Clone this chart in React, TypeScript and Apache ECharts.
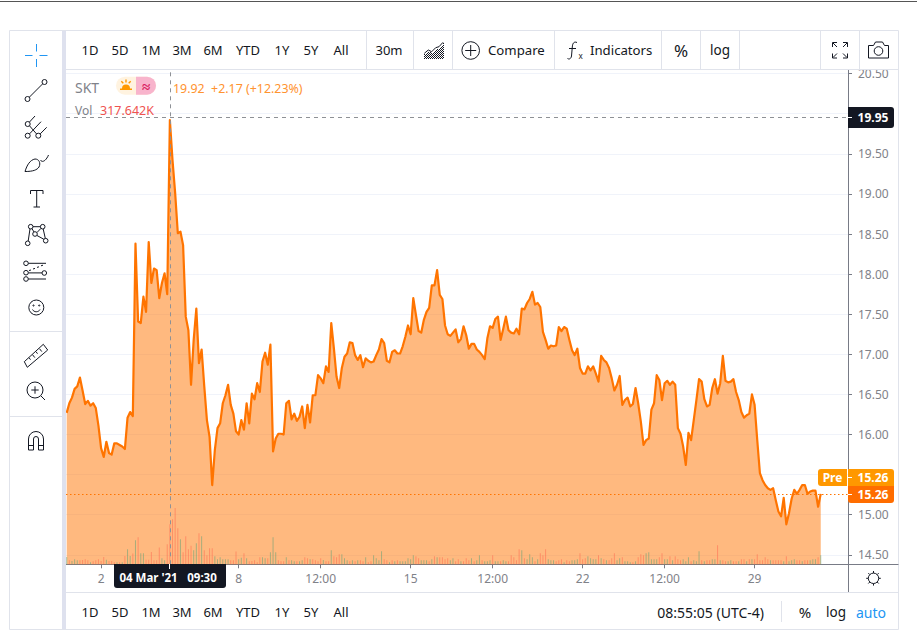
import React, { useEffect, useRef } from "react";
import * as echarts from "echarts";

// 30-minute bars, 13 per session, from 1 March 2021
const prices = [
  16.27,16.39,16.46,16.57,16.60,16.71,16.55,16.38,16.42,16.36,
  16.39,16.33,16.11,15.83,15.72,15.91,15.77,15.75,15.89,15.89,
  15.87,15.85,15.82,16.21,16.28,16.23,18.38,17.41,17.39,17.72,
  17.53,18.40,17.89,18.07,18.05,17.70,17.89,18.01,17.75,19.92,
  19.42,19.01,18.51,18.53,18.36,17.47,17.30,16.62,17.18,17.57,
  16.89,17.06,16.60,16.18,15.97,15.37,15.81,16.08,16.14,16.39,
  16.49,16.62,16.37,16.26,16.04,16.00,16.18,16.06,16.39,16.14,
  16.51,16.44,16.64,16.53,16.91,17.02,16.87,17.12,15.79,15.95,
  16.01,16.01,16.00,16.39,16.42,16.19,16.26,16.17,16.22,16.35,
  16.08,16.37,16.15,16.49,16.49,16.74,16.70,16.64,16.85,16.78,
  17.39,17.07,16.72,16.58,16.83,16.97,17.01,17.15,17.14,16.99,
  16.93,16.99,16.84,16.95,16.92,16.90,16.91,16.99,17.06,17.19,
  17.14,16.92,16.90,17.03,17.05,17.01,17.01,17.10,17.22,17.36,
  17.25,17.70,17.49,17.29,17.27,17.43,17.53,17.58,17.86,17.86,
  18.05,17.74,17.69,17.36,17.25,17.23,17.27,17.31,17.15,17.19,
  17.35,17.24,17.07,17.13,17.13,17.06,17.03,16.99,16.94,17.20,
  17.35,17.33,17.44,17.47,17.18,17.32,17.47,17.30,17.27,17.26,
  17.32,17.25,17.57,17.56,17.64,17.69,17.78,17.62,17.64,17.59,
  17.28,17.18,17.07,17.11,17.10,17.11,17.34,17.29,17.34,17.32,
  17.18,17.05,16.99,17.07,16.83,16.76,16.76,16.85,16.80,16.85,
  16.76,16.66,16.98,16.93,16.90,16.83,16.70,16.55,16.62,16.73,
  16.37,16.43,16.46,16.35,16.38,16.58,16.39,16.16,15.87,15.93,
  15.95,16.31,16.39,16.74,16.68,16.43,16.64,16.67,16.62,16.66,
  16.62,16.08,16.01,15.85,15.62,16.02,15.93,16.18,16.43,16.69,
  16.66,16.44,16.35,16.37,16.58,16.69,16.51,16.64,16.98,16.67,
  16.65,16.66,16.69,16.53,16.43,16.28,16.21,16.24,16.26,16.50,
  16.37,15.93,15.52,15.43,15.37,15.33,15.31,15.33,15.18,15.04,
  14.98,15.21,14.88,15.02,15.20,15.31,15.26,15.31,15.37,15.37,
  15.26,15.29,15.30,15.30,15.10,15.26,
];

// volume in thousands of shares
const volumes = [
  58,32,27,40,32,32,34,40,32,16,
  24,32,40,27,58,37,27,27,16,16,
  16,16,66,119,66,85,191,215,87,87,
  37,37,98,32,32,133,48,32,159,318,
  358,448,286,199,95,223,119,148,111,167,
  246,223,111,72,127,127,64,40,56,40,
  40,40,32,32,101,40,53,87,48,24,
  27,32,16,56,56,48,48,95,215,95,
  32,24,24,56,32,32,24,24,24,32,
  56,48,40,40,32,24,48,34,24,24,
  111,64,56,80,80,48,32,24,32,24,
  32,32,24,56,16,24,72,48,32,103,
  40,32,16,32,24,32,24,24,24,48,
  40,72,64,48,32,32,32,24,40,64,
  56,56,56,40,48,32,48,24,40,
  24,24,48,32,48,24,32,72,32,24,
  24,32,72,24,24,24,32,24,24,72,
  56,32,119,111,48,40,80,56,24,40,
  87,72,119,40,32,32,24,32,40,16,
  32,24,32,32,40,87,40,48,64,48,
  40,40,72,48,40,32,32,48,87,32,
  48,56,24,24,16,16,24,56,80,72,
  87,95,40,40,40,56,87,40,40,64,
  32,64,40,32,40,24,56,24,32,24,
  103,32,24,32,32,40,40,151,32,32,
  24,24,32,24,24,24,40,40,24,40,
  40,40,80,32,32,56,40,32,32,32,
  32,32,24,64,24,32,40,32,32,24,
  32,32,32,40,40,56,72,
];

const volumeUp = [
  1,0,1,1,1,0,0,0,0,1,
  0,0,0,0,0,1,0,0,0,1,
  0,1,0,1,1,0,1,0,1,1,
  0,0,0,0,0,0,1,1,0,0,
  0,0,0,1,0,0,0,0,1,1,
  0,1,0,0,0,0,1,1,1,1,
  1,1,0,0,0,1,1,0,1,0,
  0,0,0,0,1,1,0,1,1,1,
  0,0,0,1,0,1,1,0,1,1,
  0,0,1,0,0,0,0,1,0,0,
  1,0,0,0,1,1,1,0,1,0,
  1,0,0,1,0,0,1,1,1,1,
  0,0,1,0,1,0,1,1,1,1,
  1,1,0,0,1,1,1,0,1,0,
  1,0,0,0,0,1,1,0,0,
  1,0,0,0,1,0,1,1,0,1,
  1,1,0,1,1,0,1,1,0,0,
  0,0,0,1,0,1,1,1,0,1,
  0,0,0,1,1,1,0,0,0,1,
  0,0,1,1,1,0,0,0,1,1,
  1,1,0,1,0,1,0,0,0,1,
  1,0,1,1,1,0,1,0,0,0,
  1,1,1,1,1,0,0,1,1,0,
  1,0,0,0,1,1,1,0,1,1,
  1,0,1,0,0,1,1,0,1,0,
  0,1,1,0,0,1,0,0,1,0,
  1,0,0,0,0,0,0,1,0,0,
  0,0,1,0,1,1,1,0,0,1,
  0,0,1,1,1,0,1,
];

const xTickIndex = [13, 65, 96, 130, 161, 195, 226, 260];
const xTickLabels = ["2", "8", "12:00", "15", "12:00", "22", "12:00", "29"];
const yTicks = [14.5,15,15.5,16,16.5,17,17.5,18,18.5,19,19.5,20,20.5];
// 15.50 and 20.00 sit behind the price flags in the reference
const yTickLabels = [14.5,15,16,16.5,17,17.5,18,18.5,19,19.5,20.5];
const rangeButtons = ["1D","5D","1M","3M","6M","YTD","1Y","5Y","All"];
const rangeButtonX = [90,120,151,182,213,248,282,311,341];

const crossIndex = 39;
const crossPrice = 19.95;
const lastPrice = 15.26;

const FONT = '"Noto Sans"';
const INK = "#131722";
const RULE = "#E0E3EB";
const AXIS = "#787B86";
const GREY = "#7F8289";

const circ = (cx: number, cy: number, r: number) =>
  `M${cx - r} ${cy}a${r} ${r} 0 1 0 ${2 * r} 0a${r} ${r} 0 1 0 ${-2 * r} 0Z`;

function mountainDots() {
  const ridge: number[][] = [[424,53],[428,50],[432,52],[436,48],[439,47],[443,42]];
  let d = "";
  for (let x = 424; x <= 443; x++) {
    let top = 58;
    for (let k = 0; k < ridge.length - 1; k++) {
      const [a, b] = ridge[k];
      const [c, e] = ridge[k + 1];
      if (x >= a && x <= c) top = b + ((e - b) * (x - a)) / (c - a);
    }
    for (let y = Math.ceil(top) + 1; y < 59; y++) {
      if ((x + y) % 2 === 0) d += `M${x} ${y}h1v1h-1Z`;
    }
  }
  return d;
}

const icons: Record<string, string> = {
  icCross: "M25 55.5H32.5M39.5 55.5H47.5M36.5 44V51.5M36.5 59V67",
  icTrend: circ(27.5, 99, 2.5) + circ(44.5, 82, 2.5) + "M29.5 97L42.5 84",
  icFib: circ(27.7, 124, 2.5) + circ(27.7, 135.7, 2.5) + circ(38.3, 135.7, 2.5) +
    "M29.5 122L35 116M29.5 133.9L41 121.7M40.2 133.9L46.7 127.3M29.5 125.8L36.5 133.9",
  icBrush: "M25 171.5C27 165 30 160 35 159C39 159 41 163 39 167C37 170 33 171.5 25 171.5ZM40.5 160C42 163 46 161 48.5 155",
  icText: "M30.5 194V190.5H43V194M36.7 190.5V207M33.5 207H40",
  icNodes: circ(30.7, 226.7, 2.3) + circ(42.7, 226.7, 2.3) + circ(35, 234, 2.3) + circ(27.7, 243.3, 2.3) + circ(45.7, 240.7, 2.3) +
    "M32 228.7L34 232M41 228.3L37 232.5M37 235.5L43.9 239.3M30 228.8L28.2 241M43.2 229L45.3 238.4M33 226.7H40.4",
  icLines: circ(26, 263.3, 2.3) + circ(26, 272.7, 2.3) + circ(44.3, 273, 2.3) + circ(26, 279, 2.3) +
    "M28.3 263.3H46M28.3 272.9H42M28.3 279H46M29 270.5L31 270M33 269L35 268.4M37 267.4L39 266.8M41 265.8L43 265.2",
  icSmile: circ(36.3, 307.5, 7.5) + circ(33.5, 305.5, 0.6) + circ(39.2, 305.5, 0.6) + "M32.5 309.5C34 312.5 38.5 312.5 40 309.5",
  icRuler: "M24.3 361.7L27.3 367.3L47.7 350L43.3 344.3ZM29 357.7L30.5 359.7M32.5 354.7L34.8 357.6M36 351.7L37.5 353.7M39.5 348.7L41.8 351.6",
  icZoom: circ(35, 390, 8) + "M41 396L45 400M35 386.3V393.7M31.3 390H38.7",
  icMagnet: "M28.5 450V439A7.5 7.5 0 0 1 43.5 439V450H38.5V439A2.5 2.5 0 0 0 33.5 439V450ZM28.5 445.5H33.5M38.5 445.5H43.5",
  icRidge: "M424.3 53.3L428.3 50L431.7 51.7L435.7 47.7L439 46.7L443 42.3",
  icCompare: circ(470.7, 50.5, 8.8) + "M470.7 45V56M465.2 50.5H476.2",
  icFx: "M577 42.5C573.5 41 572.5 44 572.3 47L571.5 56C571 59 569 59.5 567.5 58.5M569 48.5H576",
  icFull: "M832.5 47V42.5H837M833 43L837 47M847.5 47V42.5H843M847 43L843 47M832.5 53.5V58H837M833 57.5L837 53.5M847.5 53.5V58H843M847 57.5L843 53.5",
  icCamera: "M868.5 45.5H873.5L875.5 42H882.5L884.5 45.5H888.5V58H868.5Z" + circ(878.5, 51, 4.3),
  icGear: circ(873.5, 578.3, 5.2) + "M873.5 571V573M873.5 583.6V585.6M866.2 578.3H868.2M878.8 578.3H880.8M868.3 573.1L869.8 574.6M877.2 582L878.7 583.5M868.3 583.5L869.8 582M877.2 574.6L878.7 573.1",
};
const filled: Record<string, string> = {
  icStipple: mountainDots(),
  icSun: "M122 88.5A4 4 0 0 1 130 88.5ZM120 88.5H132V90H120ZM125.3 79.5H126.7V82.5H125.3ZM120.8 81.8L121.8 80.8L123.8 82.8L122.8 83.8ZM131.2 81.8L130.2 80.8L128.2 82.8L129.2 83.8Z",
};
[...Object.entries(icons), ...Object.entries(filled)].forEach(([name, d]) => {
  echarts.graphic.registerShape(name, echarts.graphic.extendPath(d, {}) as any);
});

function buildGraphic() {
  const Z = 100;
  const txt = (text: string, x: number, y: number, o: any = {}) => ({
    type: "text", x, y, z: o.z ?? Z + 2,
    style: {
      text, fill: o.fill ?? INK, align: o.align ?? "center", verticalAlign: "middle",
      font: `${o.weight ?? "normal"} ${o.size ?? 13}px ${FONT}`,
    },
  });
  const rect = (x: number, y: number, w: number, h: number, fill: string, o: any = {}) => ({
    type: "rect", z: o.z ?? Z, shape: { x, y, width: w, height: h, r: o.r ?? 0 }, style: { fill },
  });
  const vline = (x: number, y1: number, y2: number, c = RULE) => ({
    type: "line", z: Z + 1, shape: { x1: x, y1, x2: x, y2 }, style: { stroke: c, lineWidth: 1 },
  });
  const hline = (y: number, x1: number, x2: number, c = RULE) => ({
    type: "line", z: Z + 1, shape: { x1, y1: y, x2, y2: y }, style: { stroke: c, lineWidth: 1 },
  });

  const els: any[] = [
    // page rule and panel frame
    rect(0, 1, 917, 1, "#555555"),
    rect(9.5, 30.5, 889, 39, "#FFFFFF"),
    rect(10, 70, 52, 559, "#FFFFFF"),
    rect(62, 31, 4, 598, "#DEE1EE"),
    vline(9.5, 30.5, 629.5), vline(898.5, 30.5, 629.5),
    hline(30.5, 9.5, 898.5), hline(629.5, 9.5, 898.5),
    hline(69.5, 66, 898.5),
    hline(592.5, 66, 898.5),
    hline(564.5, 848, 898.5, AXIS),
    vline(848.5, 564, 592, AXIS),
    hline(331.5, 10, 62), hline(416.5, 10, 62),
    ...[366.5, 413.5, 452.5, 554.5, 661.5, 700.5, 739.5, 820.5, 859.5].map((x) => vline(x, 31, 69)),
    vline(781.5, 601, 622),
  ];

  // icons
  Object.keys(icons).forEach((name) => {
    els.push({
      type: name, z: Z + 2,
      style: { fill: "none", stroke: name === "icCross" ? "#2196F3" : INK, lineWidth: 1 },
    });
  });
  els.push({ type: "icStipple", z: Z + 2, style: { fill: INK } });

  // toolbars
  rangeButtons.forEach((b, i) => {
    els.push(txt(b, rangeButtonX[i], 50));
    els.push(txt(b, rangeButtonX[i], 612));
  });
  els.push(
    txt("30m", 389, 50),
    txt("Compare", 488, 50, { align: "left", size: 13.2 }),
    txt("Indicators", 590, 50, { align: "left", size: 13.2 }),
    txt("x", 578.5, 55, { size: 8, align: "left" }),
    txt("%", 681, 50, { size: 17 }),
    txt("log", 720, 50, { size: 13.5 }),
    txt("08:55:05 (UTC-4)", 764, 612, { align: "right", size: 14 }),
    txt("%", 805, 612, { size: 15 }),
    txt("log", 836, 612, { size: 13.5 }),
    txt("auto", 871, 612, { size: 14, fill: "#2196F3" }),
  );

  // legend
  els.push(
    rect(116, 76.7, 40, 18, "#FFF3E0", { r: 9 }),
    { type: "rect", z: Z + 1, shape: { x: 136, y: 76.7, width: 20, height: 18, r: [0, 9, 9, 0] }, style: { fill: "#F8B4CC" } },
    { type: "icSun", z: Z + 2, style: { fill: "#FF9800" } },
    txt("≈", 146, 85.5, { size: 15, fill: "#D81B60", weight: "bold" }),
    txt("SKT", 75, 87, { align: "left", size: 14, fill: GREY }),
    txt("19.92  +2.17 (+12.23%)", 173, 88, { align: "left", size: 12.4, fill: "#FF9330" }),
    txt("Vol", 75, 110, { align: "left", size: 12, fill: GREY }),
    txt("317.642K", 100, 110, { align: "left", size: 12.5, fill: "#EF5350" }),
  );

  // crosshair and price labels
  els.push(
    { type: "rect", z: Z, shape: { x: 848, y: 107, width: 46, height: 21, r: [0, 3, 3, 0] }, style: { fill: INK } },
    hline(117.5, 848, 852, "#FFFFFF"),
    txt("19.95", 873, 117.5, { fill: "#FFFFFF", weight: "bold", size: 12 }),
    { type: "rect", z: Z, shape: { x: 114, y: 564, width: 112, height: 24, r: [0, 0, 3, 3] }, style: { fill: INK } },
    vline(169.5, 564, 569, "#FFFFFF"),
    txt("04 Mar '21", 148.5, 577.5, { fill: "#FFFFFF", weight: "bold", size: 11.5 }),
    txt("09:30", 202, 577.5, { fill: "#FFFFFF", weight: "bold", size: 11.5 }),
    { type: "rect", z: Z, shape: { x: 818, y: 469, width: 29, height: 17, r: [3, 0, 0, 3] }, style: { fill: "#FF9800" } },
    { type: "rect", z: Z, shape: { x: 848, y: 469, width: 46, height: 17, r: [0, 3, 0, 0] }, style: { fill: "#FF9800" } },
    { type: "rect", z: Z, shape: { x: 848, y: 486, width: 46, height: 17, r: [0, 0, 3, 3] }, style: { fill: "#FF6D00" } },
    hline(477.5, 848, 852, "#FFFFFF"),
    hline(494.5, 848, 852, "#FFFFFF"),
    txt("Pre", 832.5, 477.5, { fill: "#FFFFFF", weight: "bold", size: 12 }),
    txt("15.26", 873, 477.5, { fill: "#FFFFFF", weight: "bold", size: 12 }),
    txt("15.26", 873, 494.5, { fill: "#FFFFFF", weight: "bold", size: 12 }),
  );
  return els;
}

export default function App() {
  const ref = useRef<HTMLDivElement>(null);
  useEffect(() => {
    const chart = echarts.init(ref.current!, undefined, { renderer: "svg" });
    const dash = { color: "#8E9196", type: [4, 4] as any, width: 1 };
    chart.setOption({
      animation: false,
      backgroundColor: "#FFFFFF",
      grid: { left: 66, top: 70, width: 782, height: 494.3, containLabel: false },
      xAxis: {
        type: "value",
        min: -0.26,
        max: 295.3,
        axisLine: { show: true, lineStyle: { color: AXIS, width: 1 } },
        axisTick: { show: true, length: 4, lineStyle: { color: AXIS }, customValues: xTickIndex },
        axisLabel: {
          color: GREY, fontFamily: FONT, fontSize: 12, margin: 8,
          customValues: xTickIndex,
          formatter: (v: number) => xTickLabels[xTickIndex.indexOf(v)] ?? "",
        },
        splitLine: { show: false },
      },
      yAxis: [
        {
          type: "value",
          position: "right",
          min: 14.382,
          max: 20.545,
          axisLine: { show: true, onZero: false, lineStyle: { color: AXIS, width: 1 } },
          axisTick: { show: true, length: 4, lineStyle: { color: AXIS }, customValues: yTicks },
          axisLabel: {
            color: GREY, fontFamily: FONT, fontSize: 12, margin: 10,
            customValues: yTickLabels,
            formatter: (v: number) => v.toFixed(2),
          },
          splitLine: { show: true, lineStyle: { color: "#F0F3FA", width: 1 } },
        },
        { type: "value", min: 0, max: 3930, show: false, splitLine: { show: false } },
      ],
      series: [
        {
          type: "line",
          name: "SKT",
          data: prices.map((v, i) => [i, v]),
          symbol: "none",
          z: 3,
          lineStyle: { color: "#FF7400", width: 2.2, join: "round" },
          areaStyle: { origin: "start", color: "rgba(255,116,0,0.5)", opacity: 1 },
        },
        {
          type: "bar",
          name: "Vol",
          yAxisIndex: 1,
          barWidth: 1,
          z: 4,
          data: volumes.map((v, i) => ({
            value: [i, v],
            itemStyle: { color: volumeUp[i] ? "rgba(83,160,120,0.5)" : "rgba(255,90,70,0.45)" },
          })),
        },
        {
          type: "line",
          name: "marks",
          data: [],
          z: 6,
          markLine: {
            silent: true,
            symbol: "none",
            label: { show: false },
            data: [
              { xAxis: crossIndex, lineStyle: dash },
              { yAxis: crossPrice, lineStyle: dash },
              { yAxis: lastPrice, lineStyle: { color: "#FF7400", type: [1.5, 2.5] as any, width: 1 } },
            ],
          },
        },
      ],
      graphic: { z: 100, elements: buildGraphic() },
    });
    return () => chart.dispose();
  }, []);
  return <div ref={ref} style={{ position: "absolute", left: 0, top: 0, width: 917, height: 633 }} />;
}
